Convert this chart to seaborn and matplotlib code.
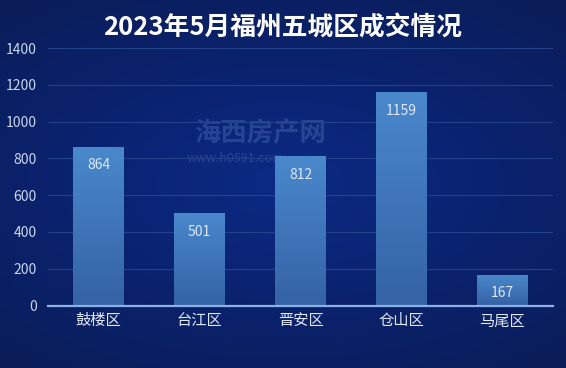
import numpy as np
import pandas as pd
import matplotlib
matplotlib.use("Agg")
import matplotlib.pyplot as plt
import seaborn as sns
from matplotlib.colors import LinearSegmentedColormap

districts = ["鼓楼区", "台江区", "晋安区", "仓山区", "马尾区"]
deals = [864, 501, 812, 1159, 167]
y_ticks = [0, 200, 400, 600, 800, 1000, 1200, 1400]
title = "2023年5月福州五城区成交情况"

df = pd.DataFrame({"district": districts, "deals": deals})

sns.set_theme(style="white")
plt.rcParams["font.family"] = ["Noto Sans CJK SC", "DejaVu Sans"]

fig = plt.figure(figsize=(5.66, 3.68), dpi=100)

# background: soft radial navy gradient
bg = fig.add_axes([0, 0, 1, 1], zorder=-10)
yy, xx = np.mgrid[-1:1:200j, -1:1:300j]
r = np.sqrt((xx * 0.9) ** 2 + (yy * 1.1) ** 2)
bg_cmap = LinearSegmentedColormap.from_list("bg", ["#0c2a84", "#0a236f", "#0b1d58"])
bg.imshow(r, cmap=bg_cmap, aspect="auto", extent=[0, 1, 0, 1], vmin=0, vmax=1.4)
bg.axis("off")

# faint watermark behind the chart
bg.text(260 / 566, 1 - 133 / 368, "海西房产网", color="#6d93d2", alpha=0.28,
        fontsize=19, fontweight="bold", ha="center", va="center",
        transform=bg.transAxes)
bg.text(235 / 566, 1 - 158 / 368, "www.h0591.com", color="#6d93d2", alpha=0.28,
        fontsize=9, ha="center", va="center", transform=bg.transAxes)

ax = fig.add_axes([48 / 566, 1 - 305.5 / 368, 505 / 566, 257.5 / 368])
ax.patch.set_alpha(0)

sns.barplot(data=df, x="district", y="deals", ax=ax, width=0.5,
            color="#4580c4", saturation=1, linewidth=0, zorder=3)

# vertical gradient on each bar
bar_cmap = LinearSegmentedColormap.from_list("bar", ["#3463a6", "#4a88cc"])
grad = np.linspace(0, 1, 100).reshape(-1, 1)
for p in ax.patches:
    x0, w, h = p.get_x(), p.get_width(), p.get_height()
    im = ax.imshow(grad, cmap=bar_cmap, aspect="auto", origin="lower",
                   extent=[x0, x0 + w, 0, h], zorder=4)
    im.set_clip_path(p)
    ax.text(x0 + w / 2, h - 100, f"{int(h)}", ha="center", va="center",
            color="#dfe8f7", fontsize=10, zorder=5)

ax.set_xlim(-0.5, 4.5)
ax.set_ylim(0, 1400)
ax.set_yticks(y_ticks)
ax.set_yticklabels([str(v) for v in y_ticks], color="#c9d6ee", fontsize=10)
ax.tick_params(axis="x", colors="#dfe8f7", labelsize=11, length=0, pad=5)
ax.tick_params(axis="y", length=0, pad=8)
ax.set_xlabel("")
ax.set_ylabel("")
ax.grid(axis="y", color="#23428a", linewidth=0.8, zorder=1)
for s in ["top", "right", "left"]:
    ax.spines[s].set_visible(False)
ax.spines["bottom"].set_color("#8fb0e2")
ax.spines["bottom"].set_linewidth(1.6)
ax.spines["bottom"].set_zorder(6)

fig.text(0.5, 1 - 28 / 368, title, color="white", fontsize=18.5,
         fontweight="bold", ha="center", va="center")

fig.savefig("out.png", dpi=100)
